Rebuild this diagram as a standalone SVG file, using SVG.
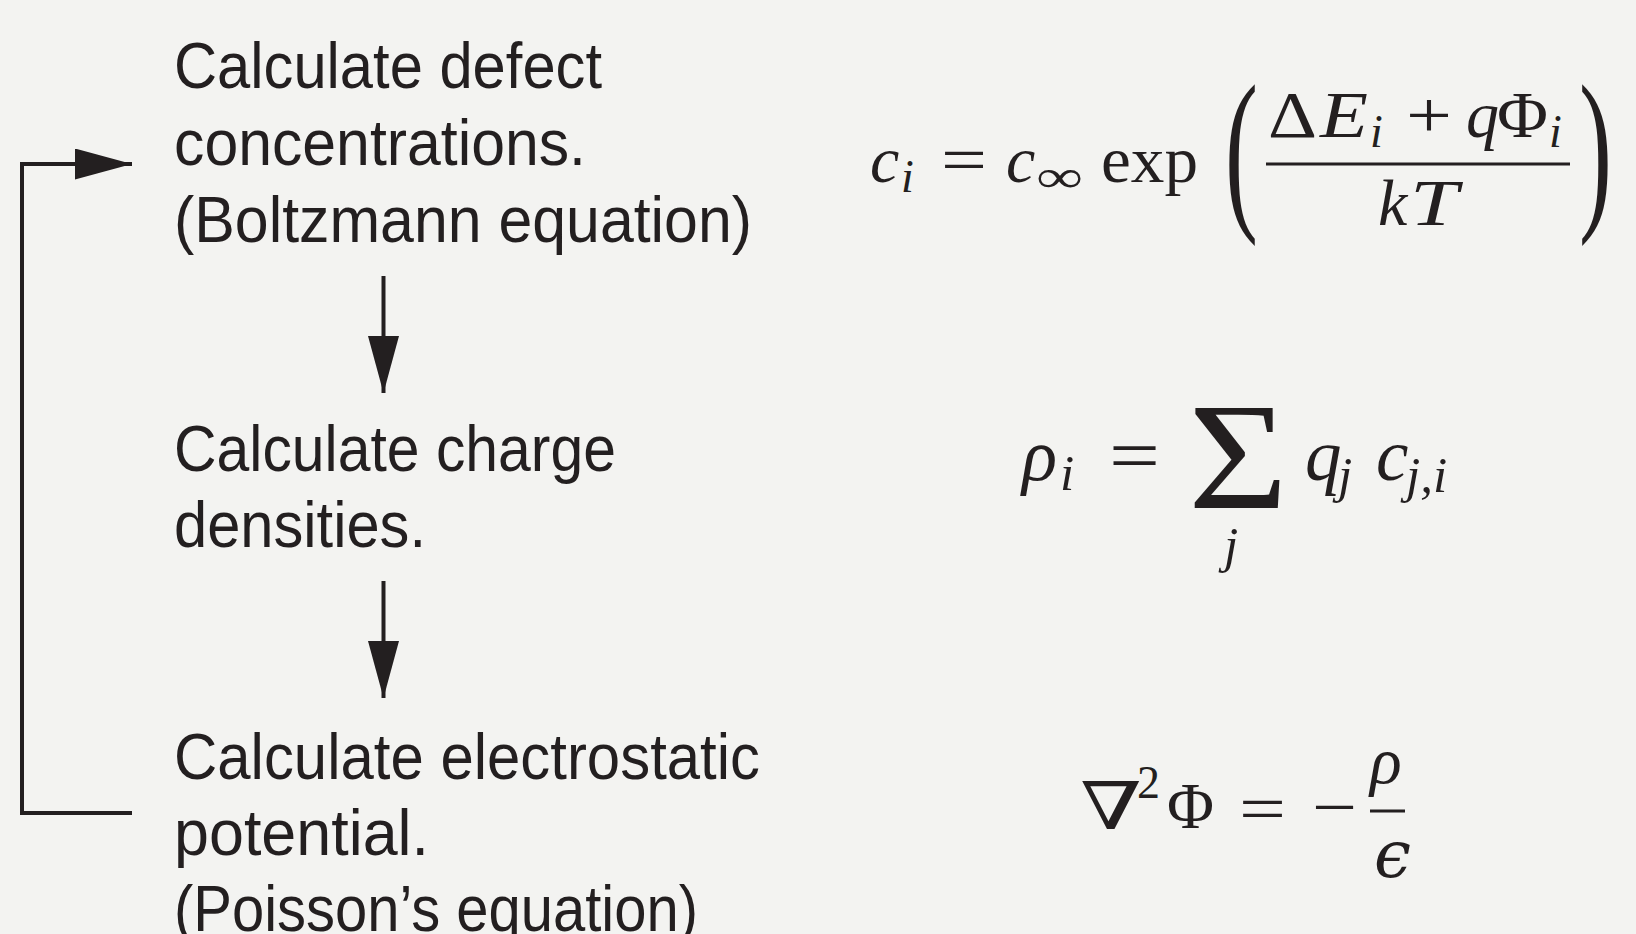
<svg xmlns="http://www.w3.org/2000/svg" width="1636" height="934" viewBox="0 0 1636 934">
<style>
.lbl{font-family:"Liberation Sans",Arial,sans-serif;font-size:64px;fill:#231f20}
.m{font-family:"Liberation Serif","DejaVu Serif",serif;font-size:66px;fill:#231f20}
.dj{font-family:"DejaVu Serif","Liberation Serif",serif}
.it{font-style:italic}
.sub{font-size:46px}
.conn{stroke:#231f20;stroke-width:4;fill:none}
.bar{fill:#231f20}
</style>
<defs>
<marker id="ah" viewBox="0 0 57 31" refX="57" refY="15.5" markerWidth="57" markerHeight="31" markerUnits="userSpaceOnUse" orient="auto">
<path d="M0,0 L57,15.5 L0,31 z" fill="#231f20"/>
</marker>
</defs>
<rect width="1636" height="934" fill="#f3f3f1"/>

<g id="node-boltzmann">
<text class="lbl" x="174" y="88" textLength="428" lengthAdjust="spacingAndGlyphs">Calculate defect</text>
<text class="lbl" x="174" y="165" textLength="412" lengthAdjust="spacingAndGlyphs">concentrations.</text>
<text class="lbl" x="174" y="242" textLength="578" lengthAdjust="spacingAndGlyphs">(Boltzmann equation)</text>
</g>
<g id="node-charge">
<text class="lbl" x="174" y="471" textLength="442" lengthAdjust="spacingAndGlyphs">Calculate charge</text>
<text class="lbl" x="174" y="547" textLength="252" lengthAdjust="spacingAndGlyphs">densities.</text>
</g>
<g id="node-poisson">
<text class="lbl" x="174" y="779" textLength="586" lengthAdjust="spacingAndGlyphs">Calculate electrostatic</text>
<text class="lbl" x="174" y="855" textLength="255" lengthAdjust="spacingAndGlyphs">potential.</text>
<text class="lbl" x="174" y="931" textLength="524" lengthAdjust="spacingAndGlyphs">(Poisson’s equation)</text>
</g>

<g id="eq-boltzmann" class="m">
<text class="it" x="870" y="182">c</text>
<text class="it sub" x="901" y="192">i</text>
<text x="941" y="182" textLength="46" lengthAdjust="spacingAndGlyphs">=</text>
<text class="it" x="1006" y="182">c</text>
<text class="sub" x="1036" y="192" textLength="47" lengthAdjust="spacingAndGlyphs">∞</text>
<text x="1101" y="182" textLength="97" lengthAdjust="spacingAndGlyphs">exp</text>
<text transform="translate(1225,208) scale(1.5,2.7)" x="0" y="0">(</text>
<text x="1268" y="137" textLength="49" lengthAdjust="spacingAndGlyphs">Δ</text>
<text class="it" x="1320" y="137" textLength="48" lengthAdjust="spacingAndGlyphs">E</text>
<text class="it sub" x="1370" y="147">i</text>
<text x="1406" y="137" textLength="46" lengthAdjust="spacingAndGlyphs">+</text>
<text class="it" x="1466" y="137">q</text>
<text x="1497" y="137" textLength="51" lengthAdjust="spacingAndGlyphs">Φ</text>
<text class="it sub" x="1549" y="147">i</text>
<rect class="bar" x="1266" y="162.5" width="304" height="3"/>
<text class="it" x="1378" y="225">k</text>
<text class="it" x="1410" y="225" textLength="48" lengthAdjust="spacingAndGlyphs">T</text>
<text transform="translate(1579,208) scale(1.5,2.7)" x="0" y="0">)</text>
</g>

<g id="eq-charge" class="m">
<text class="it" x="1022" y="480" style="font-size:73px">ρ</text>
<text class="it" x="1060" y="490" style="font-size:51px">i</text>
<text x="1109" y="480" style="font-size:73px" textLength="51" lengthAdjust="spacingAndGlyphs">=</text>
<text x="1188" y="508" style="font-size:153px" textLength="100" lengthAdjust="spacingAndGlyphs">Σ</text>
<text class="it" x="1224" y="562" style="font-size:51px">j</text>
<text class="it" x="1305" y="480" style="font-size:73px">q</text>
<text class="it" x="1338" y="492" style="font-size:51px">j</text>
<text class="it" x="1376" y="480" style="font-size:73px">c</text>
<text class="it" x="1406" y="492" style="font-size:51px">j,i</text>
</g>

<g id="eq-poisson" class="m">
<text class="dj" x="1080" y="829" textLength="62" lengthAdjust="spacingAndGlyphs">∇</text>
<text x="1137" y="798" style="font-size:46px">2</text>
<text x="1167" y="828" textLength="47" lengthAdjust="spacingAndGlyphs">Φ</text>
<text x="1239" y="831" textLength="47" lengthAdjust="spacingAndGlyphs">=</text>
<text x="1312" y="829" textLength="45" lengthAdjust="spacingAndGlyphs">−</text>
<text class="it" x="1370" y="783">ρ</text>
<rect class="bar" x="1370" y="809.5" width="35" height="3"/>
<text class="dj it" x="1374" y="877">ϵ</text>
</g>

<g id="connectors">
<path class="conn" d="M132,813 H22 V164 H132" marker-end="url(#ah)"/>
<path class="conn" d="M383.5,276 V393" marker-end="url(#ah)"/>
<path class="conn" d="M383.5,581 V698" marker-end="url(#ah)"/>
</g>
</svg>
